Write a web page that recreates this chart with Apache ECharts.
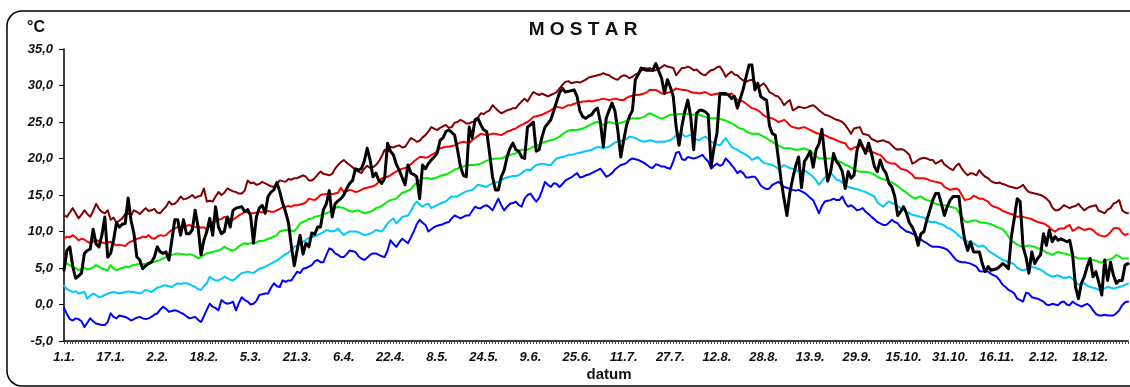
<!DOCTYPE html>
<html>
<head>
<meta charset="utf-8">
<title>MOSTAR</title>
<script src="https://cdn.jsdelivr.net/npm/echarts/dist/echarts.min.js"></script>
<style>
  html, body { margin: 0; padding: 0; background: #fff; }
  #chart { width: 1130px; height: 387px; }
</style>
</head>
<body>
<div id="chart"></div>
<script>
// Calendar of a leap year: day labels "d.m."
const monthLengths = [31, 29, 31, 30, 31, 30, 31, 31, 30, 31, 30, 31];
const dayLabels = [];
monthLengths.forEach(function (n, m) {
  for (let d = 1; d <= n; d++) dayLabels.push(d + '.' + (m + 1) + '.');
});

// Temperature axis (°C)
const yMin = -5, yMax = 35, yStep = 5;

// Daily temperature curves, °C
const upperExtreme = [
  12.2, 12.0, 12.6, 13.2, 12.5, 11.8, 12.3, 12.9, 12.4, 12.0,
  12.8, 13.8, 13.1, 12.7, 12.5, 12.9, 11.6, 11.9, 11.2, 11.5,
  11.8, 12.4, 12.5, 12.2, 12.9, 12.7, 12.4, 12.8, 13.2, 12.8,
  12.9, 13.1, 12.6, 12.5, 13.0, 13.4, 14.1, 13.7, 13.8, 14.2,
  14.8, 14.4, 14.5, 14.7, 15.0, 14.6, 14.8, 14.9, 15.9, 14.1,
  14.2, 14.1, 14.8, 15.4, 15.0, 15.3, 15.9, 15.7, 15.5, 15.4,
  15.2, 15.2, 15.6, 17.0, 16.6, 16.7, 16.4, 16.5, 16.8, 16.6,
  16.4, 16.2, 16.1, 16.5, 17.0, 16.9, 16.8, 17.2, 17.1, 17.3,
  17.3, 17.5, 17.7, 17.5, 17.0, 17.0, 17.3, 17.8, 18.2, 17.9,
  17.8, 17.7, 17.9, 18.6, 19.1, 19.5, 19.8, 19.4, 19.1, 18.8,
  18.4, 18.2, 18.0, 18.6, 19.0, 18.7, 18.8, 19.1, 19.6, 20.3,
  21.2, 20.9, 21.6, 21.5, 21.7, 21.8, 21.5, 21.6, 22.2, 22.8,
  22.6, 22.3, 22.4, 22.9, 23.2, 23.7, 24.3, 24.1, 23.9, 24.2,
  24.4, 24.6, 24.2, 24.3, 24.9, 25.0, 25.3, 25.1, 24.8, 24.8,
  25.0, 25.0, 25.6, 26.2, 26.1, 26.4, 26.6, 27.3, 26.9, 26.5,
  26.2, 26.4, 26.6, 26.7, 26.9, 26.9, 27.4, 27.8, 28.2, 27.8,
  28.5, 29.1, 28.9, 28.7, 28.9, 28.7, 28.5, 28.7, 28.9, 29.1,
  29.6, 30.1, 30.5, 30.6, 30.3, 30.4, 30.5, 30.4, 30.6, 30.8,
  31.1, 31.2, 31.3, 31.4, 31.5, 31.7, 31.5, 31.4, 31.1, 30.9,
  30.8, 31.2, 31.4, 31.3, 31.0, 31.2, 31.5, 31.7, 32.0, 32.4,
  32.3, 32.4, 32.0, 32.1, 32.3, 32.5, 32.8, 32.6, 32.5, 32.4,
  31.4, 31.9, 32.4, 32.4, 32.6, 32.4, 32.1, 32.2, 31.8, 31.5,
  31.4, 31.8, 32.1, 32.2, 32.5, 32.6, 32.0, 31.2, 31.6, 31.9,
  31.5, 31.4, 31.0, 30.7, 30.5, 30.7, 30.8, 30.4, 29.8, 30.0,
  30.3, 29.8, 29.1, 28.9, 28.6, 28.5, 28.0, 27.3, 27.7, 28.0,
  26.6, 26.8, 27.1, 27.0, 26.9, 27.0, 27.2, 27.3, 27.0, 26.6,
  26.3, 26.0, 25.9, 25.7, 25.5, 25.3, 25.2, 25.0, 24.6, 24.0,
  23.4, 24.1, 24.2, 24.3, 23.4, 23.3, 23.2, 22.7, 22.5, 22.3,
  22.4, 22.5, 22.3, 22.2, 21.8, 21.4, 21.2, 21.3, 21.2, 20.9,
  20.5, 19.3, 19.5, 19.8, 20.0, 20.1, 20.0, 19.8, 19.8, 19.3,
  19.5, 19.8, 19.2, 18.9, 18.6, 18.4, 19.0, 19.3, 18.6, 18.1,
  17.7, 18.0, 17.9, 17.7, 18.4, 17.9, 17.5, 17.3, 16.9, 16.7,
  16.6, 16.7, 16.5, 16.4, 16.2, 16.1, 16.0, 15.9, 16.1, 16.4,
  15.8, 15.4, 15.3, 15.2, 15.1, 15.0, 14.8, 14.5, 14.1, 13.3,
  12.9, 12.9, 13.2, 13.6, 13.4, 13.2, 13.4, 13.5, 13.8, 13.3,
  12.9, 13.2, 13.4, 13.5, 13.6, 12.8, 12.7, 12.5, 13.0, 13.2,
  13.8, 14.0, 14.3, 12.9, 12.6, 12.5
];

const upperBand = [
  9.0, 9.3, 9.2, 9.5, 9.2, 8.8, 9.0, 8.9, 8.6, 8.4,
  8.6, 8.8, 8.7, 8.5, 8.4, 8.5, 8.6, 8.3, 8.1, 8.2,
  8.1, 8.0, 8.4, 8.6, 8.8, 9.0, 9.1, 9.3, 9.2, 9.5,
  9.1, 9.0, 9.3, 9.5, 9.4, 9.5, 9.9, 10.2, 10.4, 10.6,
  10.5, 10.6, 10.8, 10.9, 10.7, 10.6, 10.7, 10.5, 10.6, 10.2,
  10.8, 11.3, 11.4, 11.6, 11.7, 12.0, 11.8, 11.7, 11.6, 11.9,
  12.2, 12.4, 12.7, 12.6, 12.5, 12.5, 12.6, 12.7, 12.6, 12.7,
  12.8, 12.7, 12.7, 12.9, 13.1, 13.3, 13.4, 13.5, 13.4, 13.6,
  13.6, 13.7, 13.8, 14.0, 14.5, 14.4, 14.3, 14.6, 15.0, 15.1,
  15.1, 15.2, 15.1, 15.2, 15.3, 16.0, 15.4, 15.5, 15.7, 15.6,
  15.4, 15.5, 15.7, 15.9, 16.0, 16.1, 16.2, 16.4, 16.8, 17.3,
  17.4, 17.5, 17.7, 18.0, 18.2, 18.4, 18.6, 18.7, 18.9, 19.2,
  19.6, 19.9, 20.2, 20.2, 20.1, 20.2, 20.5, 20.7, 21.0, 21.4,
  21.5, 21.6, 21.6, 21.7, 21.8, 22.0, 22.2, 22.3, 22.2, 22.1,
  22.5, 22.8, 23.1, 23.4, 23.3, 23.2, 23.3, 23.4, 23.4, 23.3,
  23.2, 23.4, 23.7, 23.8, 24.0, 24.1, 24.4, 24.6, 24.8, 25.0,
  25.3, 25.7, 25.8, 25.9, 26.0, 26.2, 26.4, 26.6, 26.9, 27.1,
  27.0, 26.9, 27.1, 27.3, 27.3, 27.5, 27.6, 27.7, 27.8, 27.8,
  27.9, 27.8, 27.9, 28.0, 28.1, 28.2, 28.1, 28.0, 28.1, 28.2,
  28.1, 28.0, 28.0, 28.3, 28.5, 28.6, 28.7, 28.7, 28.8, 28.9,
  29.1, 29.4, 29.4, 29.4, 29.2, 28.9, 28.9, 29.0, 29.1, 29.3,
  29.6, 29.5, 29.4, 29.4, 29.3, 29.1, 29.0, 29.0, 28.9, 29.0,
  29.1, 28.9, 28.7, 28.8, 28.9, 28.8, 28.7, 28.7, 28.8, 28.9,
  28.5, 28.0, 27.9, 27.8, 27.5, 27.2, 26.9, 26.8, 26.6, 26.3,
  25.9, 25.7, 25.6, 25.5, 25.3, 25.0, 25.1, 25.3, 25.0, 24.5,
  24.3, 24.2, 24.1, 24.2, 24.3, 24.1, 23.9, 23.7, 23.5, 23.4,
  23.3, 23.2, 23.0, 22.8, 22.7, 22.5, 22.3, 22.2, 22.1, 21.5,
  21.2, 21.5, 21.6, 21.8, 21.5, 21.2, 21.0, 20.9, 20.8, 20.6,
  20.5, 20.1, 19.6, 19.4, 19.3, 19.3, 19.0, 18.6, 18.5, 18.4,
  18.1, 17.8, 17.3, 17.3, 17.3, 17.3, 17.2, 17.0, 16.9, 16.8,
  16.7, 16.6, 16.1, 15.9, 15.7, 15.8, 15.9, 15.7, 15.0, 14.3,
  14.4, 14.5, 14.9, 14.7, 14.5, 14.5, 14.3, 14.1, 13.6, 13.4,
  13.3, 13.1, 12.8, 12.7, 12.5, 12.4, 12.2, 12.0, 12.1, 12.0,
  11.9, 11.8, 11.7, 11.5, 11.3, 11.2, 11.1, 10.9, 10.6, 10.2,
  10.0, 10.3, 10.4, 10.4, 10.7, 10.9, 10.1, 10.3, 10.6, 10.4,
  10.2, 10.3, 10.4, 10.2, 9.8, 9.5, 9.4, 9.3, 9.5, 9.9,
  10.4, 10.5, 10.4, 9.8, 9.5, 9.7
];

const median = [
  5.4, 5.6, 5.4, 5.2, 5.0, 4.7, 4.9, 5.0, 4.8, 4.9,
  5.1, 5.4, 5.2, 4.9, 4.8, 4.7, 5.4, 4.9, 4.7, 4.9,
  5.0, 5.2, 5.1, 5.3, 5.4, 5.5, 5.6, 5.5, 5.6, 5.7,
  5.8, 5.8, 6.0, 6.1, 6.3, 6.5, 6.6, 6.8, 6.9, 7.0,
  6.9, 6.9, 6.8, 6.9, 6.8, 6.6, 6.3, 6.5, 6.8, 7.0,
  7.1, 7.2, 7.3, 7.4, 7.6, 7.9, 7.7, 7.5, 7.4, 7.6,
  8.0, 8.2, 8.4, 8.3, 8.4, 8.4, 8.5, 8.7, 8.7, 8.8,
  9.0, 9.1, 9.3, 9.5, 10.0, 10.1, 10.2, 10.2, 10.1, 10.0,
  10.5, 11.1, 11.3, 11.5, 11.7, 11.8, 12.0, 12.1, 12.2, 12.4,
  12.5, 12.7, 12.9, 13.2, 13.4, 13.3, 13.2, 13.0, 12.8, 12.7,
  12.8, 12.9, 12.7, 12.5, 12.6, 12.7, 12.9, 13.2, 13.3, 13.5,
  13.8, 14.1, 14.3, 14.4, 14.5, 14.9, 15.3, 15.4, 15.6, 15.8,
  16.3, 16.7, 17.0, 17.3, 17.3, 17.3, 17.2, 17.3, 17.4, 17.6,
  17.7, 17.8, 18.0, 18.2, 18.5, 18.6, 18.8, 18.9, 19.0, 19.1,
  19.1, 19.1, 19.2, 19.3, 19.5, 19.7, 19.8, 19.9, 20.0, 20.0,
  20.0, 20.2, 20.4, 20.5, 20.6, 20.7, 21.0, 21.2, 21.2, 21.2,
  21.4, 21.6, 21.7, 21.9, 22.1, 22.3, 22.4, 22.5, 22.6, 22.8,
  23.0, 23.3, 23.6, 23.8, 23.9, 23.9, 23.9, 24.0, 24.1, 24.3,
  24.5, 24.7, 24.9, 25.0, 24.8, 24.6, 24.8, 25.0, 24.9, 24.8,
  24.8, 24.9, 25.0, 25.2, 25.4, 25.5, 25.5, 25.5, 25.6, 25.7,
  26.0, 26.2, 26.0, 25.8, 25.6, 25.5, 25.6, 25.8, 26.0, 26.0,
  26.0, 26.1, 26.1, 26.2, 26.1, 26.0, 26.0, 26.0, 26.0, 25.8,
  25.7, 25.6, 25.5, 25.5, 25.5, 25.4, 25.3, 25.2, 25.0, 24.8,
  24.6, 24.3, 24.1, 24.0, 23.7, 23.5, 23.4, 23.4, 23.4, 23.2,
  23.0, 22.8, 22.5, 22.3, 22.0, 21.8, 21.6, 21.4, 21.4, 21.4,
  21.3, 21.2, 21.2, 21.3, 21.4, 21.2, 21.0, 20.7, 20.3, 20.0,
  20.0, 20.0, 20.0, 20.0, 19.9, 19.7, 19.6, 19.4, 19.1, 19.0,
  18.8, 18.5, 18.3, 18.2, 18.2, 18.2, 18.1, 18.0, 17.8, 17.5,
  17.3, 17.2, 17.0, 16.9, 16.7, 16.5, 16.2, 15.9, 15.6, 15.3,
  15.0, 14.7, 14.5, 14.7, 14.8, 14.5, 14.3, 14.2, 14.0, 13.8,
  13.7, 13.6, 13.6, 13.5, 13.4, 13.3, 13.2, 12.6, 12.0, 11.4,
  11.3, 11.4, 11.5, 11.5, 11.3, 11.2, 11.2, 11.1, 11.0, 10.8,
  10.6, 10.5, 10.3, 9.9, 9.3, 8.8, 8.5, 8.2, 8.0, 7.9,
  8.0, 8.1, 8.0, 7.9, 7.7, 7.6, 7.4, 7.1, 7.0, 6.8,
  7.0, 7.2, 7.1, 7.0, 6.9, 6.8, 6.6, 6.5, 6.3, 6.3,
  6.3, 6.3, 6.2, 6.1, 6.0, 5.8, 5.8, 5.9, 6.1, 6.2,
  6.4, 6.8, 6.6, 6.3, 6.3, 6.3
];

const lowerBand = [
  2.6, 2.1, 1.9, 1.7, 1.8, 1.5, 1.6, 1.7, 0.8, 1.2,
  1.5, 1.3, 1.0, 1.1, 1.3, 1.5, 1.6, 1.7, 1.6, 1.5,
  1.6, 1.7, 1.8, 1.7, 1.7, 1.6, 1.5, 1.7, 2.0, 1.9,
  1.7, 2.0, 2.3, 2.4, 2.6, 2.6, 2.5, 2.4, 2.7, 2.9,
  2.8, 2.9, 2.9, 2.8, 2.6, 2.4, 2.1, 2.0, 2.5, 2.9,
  3.8, 3.5, 3.3, 3.3, 3.5, 3.8, 3.6, 3.4, 3.3, 3.6,
  4.0, 4.3, 4.4, 4.5, 4.4, 4.3, 4.6, 4.9, 5.0, 5.2,
  5.4, 5.6, 5.8, 6.0, 6.3, 6.6, 6.9, 7.1, 7.5, 7.9,
  8.1, 8.4, 8.6, 8.8, 9.1, 9.2, 9.3, 9.5, 9.7, 9.9,
  10.2, 10.1, 10.0, 10.1, 10.4, 9.9, 9.5, 9.8, 10.0, 10.0,
  10.0, 9.9, 9.7, 9.5, 9.6, 9.7, 9.9, 10.2, 10.1, 10.0,
  10.5, 11.1, 11.5, 11.8, 11.1, 11.5, 12.0, 12.1, 12.2, 12.8,
  13.6, 14.1, 13.7, 13.4, 13.7, 13.8, 13.2, 13.4, 13.6, 13.8,
  14.0, 14.1, 14.5, 14.8, 14.8, 14.8, 15.1, 15.3, 15.5, 15.6,
  15.7, 16.0, 16.4, 16.3, 16.2, 16.1, 16.4, 16.6, 16.7, 16.8,
  17.0, 17.3, 17.4, 17.5, 17.6, 17.6, 17.7, 18.0, 18.3, 18.5,
  18.4, 18.8, 19.1, 19.2, 19.3, 19.2, 19.1, 19.1, 19.6, 20.0,
  20.1, 20.2, 20.3, 20.5, 20.5, 20.6, 20.7, 20.8, 20.9, 21.0,
  21.1, 21.2, 21.4, 21.6, 21.5, 21.4, 21.5, 21.6, 21.9, 22.2,
  22.3, 22.4, 22.5, 22.7, 23.0, 22.9, 22.8, 22.6, 22.4, 22.3,
  22.4, 22.5, 22.4, 22.3, 22.3, 22.3, 22.3, 22.4, 22.5, 22.8,
  23.2, 23.4, 23.4, 23.0, 23.1, 23.2, 22.9, 22.6, 22.5, 22.8,
  23.0, 22.7, 22.3, 22.1, 21.9, 21.8, 22.3, 22.8, 22.2, 21.6,
  21.4, 21.2, 20.9, 20.7, 20.5, 20.2, 19.8, 20.0, 20.2, 19.8,
  19.4, 19.3, 19.2, 19.1, 18.9, 18.6, 18.8, 19.1, 18.9, 18.7,
  18.6, 18.4, 18.2, 18.3, 18.4, 18.1, 17.8, 17.5, 17.0, 16.4,
  16.9, 17.4, 17.7, 18.0, 17.6, 17.1, 17.0, 16.7, 16.4, 16.1,
  16.0, 15.9, 15.8, 15.7, 15.5, 15.4, 15.2, 15.0, 14.8, 14.0,
  13.7, 13.4, 13.8, 14.1, 13.9, 13.8, 13.5, 13.2, 13.0, 12.7,
  12.5, 12.3, 12.2, 12.1, 12.0, 11.9, 11.6, 11.3, 11.3, 11.3,
  11.1, 11.0, 10.8, 10.5, 10.4, 10.1, 9.8, 9.4, 9.1, 8.9,
  8.6, 8.5, 8.4, 8.1, 7.9, 8.1, 7.9, 7.4, 7.1, 6.9,
  6.6, 6.4, 6.1, 6.0, 5.8, 5.7, 5.5, 5.0, 4.8, 4.7,
  4.8, 4.9, 5.1, 5.1, 4.9, 4.8, 4.5, 4.2, 4.0, 3.8,
  3.9, 4.0, 3.8, 3.6, 3.7, 3.8, 3.5, 3.2, 2.7, 2.8,
  2.9, 2.6, 2.4, 2.3, 2.2, 2.0, 2.1, 2.2, 2.4, 2.3,
  2.2, 2.3, 2.4, 2.5, 2.7, 2.9
];

const lowerExtreme = [
  -0.5, -1.3, -2.0, -2.2, -1.9, -2.0, -2.3, -3.1, -2.5, -1.9,
  -2.3, -2.6, -2.7, -2.8, -2.8, -2.4, -1.2, -1.7, -1.9, -1.5,
  -1.6, -1.7, -1.9, -2.2, -2.0, -1.8, -1.7, -1.9, -2.0, -1.9,
  -1.7, -1.4, -1.2, -0.7, -0.3, -0.6, -1.0, -0.9, -0.8, -0.9,
  -1.1, -1.3, -1.6, -1.9, -1.8, -1.7, -2.1, -2.4, -1.6, -0.7,
  0.1, -0.3, -0.5, -0.8, 0.6, 0.3, 0.1, 0.2, 0.4, -0.8,
  0.2, 1.0, 0.6, 0.4, 0.0, 0.1, 0.5, 1.3, 1.4, 1.5,
  1.5, 2.3, 2.9, 2.5, 2.4, 3.3, 3.1, 3.3, 3.3, 3.9,
  4.5, 4.3, 4.9, 5.0, 5.2, 5.4, 5.9, 6.1, 5.8, 5.8,
  6.8, 7.7, 7.5, 7.0, 6.8, 6.5, 6.5, 6.9, 7.4, 7.3,
  7.2, 6.6, 6.3, 6.1, 6.4, 6.8, 7.0, 7.0, 6.8, 6.6,
  6.5, 7.4, 8.8, 8.3, 7.9, 8.5, 9.0, 8.7, 8.4, 9.2,
  10.0, 11.0, 11.6, 11.2, 10.9, 10.0, 10.3, 10.6, 10.8, 10.9,
  11.0, 11.2, 11.3, 11.8, 12.2, 12.0, 11.8, 12.0, 12.2, 12.2,
  12.8, 13.4, 13.2, 13.2, 13.5, 13.6, 13.3, 12.9, 13.7, 14.5,
  13.6, 12.9, 13.4, 13.8, 13.9, 14.1, 13.6, 13.4, 14.5, 15.0,
  15.2, 14.6, 14.1, 14.6, 15.6, 16.8, 16.4, 16.1, 16.6, 16.5,
  16.1, 16.5, 17.0, 17.2, 17.4, 17.7, 18.0, 17.4, 17.5, 17.7,
  17.8, 18.0, 18.2, 18.4, 18.6, 18.1, 17.5, 17.7, 18.0, 18.5,
  18.8, 19.1, 19.2, 19.4, 19.8, 20.0, 19.9, 19.8, 19.6, 19.4,
  19.1, 18.8, 18.7, 19.2, 19.1, 18.9, 18.9, 18.7, 18.6, 19.6,
  20.8, 20.9, 19.9, 19.8, 20.2, 20.1, 20.0, 20.1, 20.3, 20.5,
  20.0, 19.6, 18.6, 19.0, 19.3, 19.0, 19.2, 20.0, 19.6, 19.1,
  18.6, 18.0, 18.3, 18.0, 17.4, 17.4, 17.5, 17.5, 17.0, 16.3,
  16.0, 15.8, 15.9, 16.4, 16.6, 16.8, 16.5, 16.1, 16.0, 15.8,
  15.7, 15.6, 15.7, 15.5, 15.3, 15.0, 14.6, 14.3, 13.4, 12.5,
  13.5, 14.1, 14.2, 14.3, 14.5, 14.3, 14.3, 14.8, 13.9, 13.4,
  13.6, 13.3, 12.9, 13.0, 13.2, 12.7, 12.4, 12.0, 11.7, 11.3,
  11.1, 10.9, 10.9, 11.2, 11.6, 11.3, 11.1, 10.6, 10.3, 10.0,
  9.9, 9.7, 9.5, 9.1, 8.9, 8.6, 8.4, 8.1, 7.9, 7.9,
  7.9, 7.8, 7.7, 7.5, 7.1, 6.6, 6.1, 5.9, 5.8, 5.8,
  5.7, 5.6, 5.4, 5.2, 4.6, 4.5, 4.6, 4.5, 4.2, 4.0,
  3.8, 3.3, 2.7, 2.4, 2.0, 1.8, 1.5, 0.8, 0.6, 0.4,
  1.6, 1.5, 1.0, 0.9, 0.8, 0.6, 0.4, 0.0, -0.1, 0.1,
  0.0, -0.1, 0.3, 0.4, 0.0, -0.1, 0.4, 0.1, -0.1, -0.3,
  -0.1, 0.1, -0.2, -0.8, -1.3, -1.5, -1.5, -1.4, -1.5, -1.5,
  -1.5, -1.2, -0.8, -0.1, 0.3, 0.4
];

const observed = [
  4.7, 7.4, 7.9, 5.2, 3.6, 3.9, 4.3, 7.0, 7.4, 7.6,
  10.3, 8.3, 7.9, 9.5, 12.0, 6.5, 7.0, 8.8, 11.2, 10.6,
  11.0, 11.1, 14.6, 11.5, 9.7, 6.5, 6.1, 4.9, 5.3, 5.6,
  5.8, 6.5, 7.9, 7.2, 7.0, 7.2, 6.1, 8.8, 11.6, 11.6,
  9.5, 11.6, 9.7, 9.7, 10.2, 12.9, 10.6, 6.8, 8.8, 10.0,
  11.8, 9.5, 13.4, 10.6, 9.7, 10.0, 12.0, 10.6, 12.9, 13.2,
  13.3, 13.4, 12.7, 13.0, 12.2, 8.4, 12.0, 13.2, 13.6, 12.5,
  14.8, 15.4, 15.7, 16.7, 15.5, 13.9, 12.7, 11.2, 8.0, 5.3,
  7.5, 9.5, 6.9, 8.4, 7.9, 9.8, 9.6, 10.6, 10.6, 13.0,
  13.8, 15.6, 12.0, 13.8, 14.2, 14.5, 15.0, 15.9, 16.6, 17.0,
  18.6, 18.4, 18.6, 19.6, 21.4, 19.8, 17.5, 18.0, 17.0, 16.6,
  17.3, 22.1, 21.0, 20.5, 19.2, 18.4, 17.4, 16.4, 19.1, 18.0,
  17.8, 17.5, 14.5, 19.1, 18.6, 19.3, 19.8, 20.2, 20.7, 22.5,
  22.8, 23.7, 23.9, 23.6, 23.2, 21.2, 18.9, 17.7, 17.5, 24.3,
  22.8, 25.3, 25.5, 24.6, 23.9, 23.7, 20.7, 17.5, 15.7, 15.7,
  17.5, 18.4, 20.2, 21.4, 22.1, 21.2, 21.0, 20.2, 20.0, 24.3,
  24.6, 25.0, 21.0, 21.2, 23.0, 24.3, 24.8, 25.3, 26.5, 27.8,
  29.0, 29.6, 29.1, 29.2, 29.3, 29.4, 28.5, 26.5, 25.7, 25.5,
  25.8, 26.0, 26.6, 26.9, 25.0, 21.6, 25.5, 26.6, 27.6, 26.5,
  23.8, 20.2, 22.5, 24.6, 25.8, 26.6, 30.8, 31.5, 32.4, 32.2,
  32.1, 32.1, 32.1, 33.0, 32.0, 31.0, 28.9, 30.8, 29.8, 28.5,
  24.3, 21.8, 24.5, 26.5, 28.0, 25.7, 21.2, 26.2, 26.6, 26.6,
  26.4, 26.0, 18.9, 21.5, 23.5, 28.9, 28.9, 28.9, 28.7, 28.2,
  28.5, 26.9, 28.2, 29.5, 31.2, 32.8, 32.8, 29.4, 30.3, 28.5,
  28.2, 28.0, 24.5, 23.4, 23.2, 20.2, 17.0, 14.5, 12.2, 15.3,
  17.3, 19.0, 20.2, 16.0, 19.6, 20.2, 21.0, 18.8, 21.2, 22.0,
  24.0, 20.2, 16.9, 18.2, 20.7, 19.6, 19.1, 18.2, 15.9, 18.2,
  17.3, 17.7, 21.0, 22.5, 21.6, 20.7, 22.1, 20.7, 18.9, 18.2,
  19.8, 18.6, 18.0, 16.6, 16.1, 14.8, 12.2, 12.7, 13.4, 12.5,
  11.2, 10.6, 9.7, 8.1, 9.7, 10.0, 11.6, 12.9, 14.3, 15.2,
  15.2, 13.8, 12.2, 13.4, 14.3, 14.8, 14.8, 14.8, 11.3, 8.8,
  7.4, 8.6, 7.2, 7.2, 7.2, 5.6, 4.5, 5.2, 4.7, 4.8,
  4.9, 5.2, 5.6, 5.3, 4.9, 9.3, 11.8, 14.5, 14.1, 7.9,
  6.5, 4.3, 7.2, 5.6, 6.3, 6.8, 9.7, 8.1, 10.2, 8.6,
  9.3, 8.8, 9.0, 8.8, 8.6, 8.8, 6.8, 2.4, 0.8, 2.9,
  3.8, 5.2, 6.3, 3.8, 4.5, 3.0, 1.3, 6.1, 3.3, 5.8,
  4.0, 2.9, 3.3, 3.3, 5.4, 5.6
];

const FONT = '"Liberation Sans", Arial, Helvetica, sans-serif';
const chart = echarts.init(document.getElementById('chart'), null, { renderer: 'canvas' });

function curve(name, data, color, width, z) {
  return {
    name: name,
    type: 'line',
    data: data,
    showSymbol: false,
    symbol: 'none',
    smooth: false,
    z: z,
    lineStyle: { color: color, width: width, join: 'round', cap: 'round' },
    emphasis: { disabled: true }
  };
}

chart.setOption({
  animation: false,
  backgroundColor: '#ffffff',
  textStyle: { fontFamily: FONT },
  grid: { left: 64, right: 2, top: 49, bottom: 46, containLabel: false },
  xAxis: {
    type: 'category',
    data: dayLabels,
    boundaryGap: false,
    axisLine: { show: true, onZero: false, lineStyle: { color: '#000', width: 1.5 } },
    axisTick: { show: true, interval: 0, length: 3, inside: false, lineStyle: { color: '#444', width: 1 } },
    axisLabel: {
      interval: 15,
      margin: 10,
      color: '#111',
      fontFamily: FONT,
      fontStyle: 'italic',
      fontWeight: 'bold',
      fontSize: 13
    },
    splitLine: { show: false }
  },
  yAxis: {
    type: 'value',
    min: yMin,
    max: yMax,
    interval: yStep,
    axisLine: { show: true, lineStyle: { color: '#000', width: 1.5 } },
    axisTick: { show: true, length: 5, inside: false, lineStyle: { color: '#000', width: 1 } },
    axisLabel: {
      margin: 11,
      color: '#111',
      fontFamily: FONT,
      fontStyle: 'italic',
      fontWeight: 'bold',
      fontSize: 13,
      formatter: function (v) { return v.toFixed(1).replace('.', ','); }
    },
    splitLine: { show: false }
  },
  series: [
    curve('upperExtreme', upperExtreme, '#800000', 2, 2),
    curve('upperBand', upperBand, '#ff0000', 2, 2),
    curve('median', median, '#00ee00', 2, 2),
    curve('lowerBand', lowerBand, '#00c8ff', 2, 2),
    curve('lowerExtreme', lowerExtreme, '#0000ff', 2, 2),
    curve('observed', observed, '#000000', 3, 3)
  ],
  graphic: [
    {
      type: 'rect',
      silent: true,
      z: 0,
      shape: { x: 7, y: 11, width: 1140, height: 375, r: 15 },
      style: { fill: 'none', stroke: '#000', lineWidth: 1.5 }
    },
    {
      type: 'text',
      silent: true,
      x: 36, y: 28,
      style: { text: '°C', font: 'bold 16px ' + FONT, fill: '#111', align: 'center', verticalAlign: 'middle' }
    },
    {
      type: 'text',
      silent: true,
      x: 583, y: 30,
      style: { text: 'M O S T A R', font: 'bold 19px ' + FONT, fill: '#111', align: 'center', verticalAlign: 'middle' }
    },
    {
      type: 'text',
      silent: true,
      x: 609, y: 375,
      style: { text: 'datum', font: 'bold 15px ' + FONT, fill: '#111', align: 'center', verticalAlign: 'middle' }
    }
  ]
});
</script>
</body>
</html>
